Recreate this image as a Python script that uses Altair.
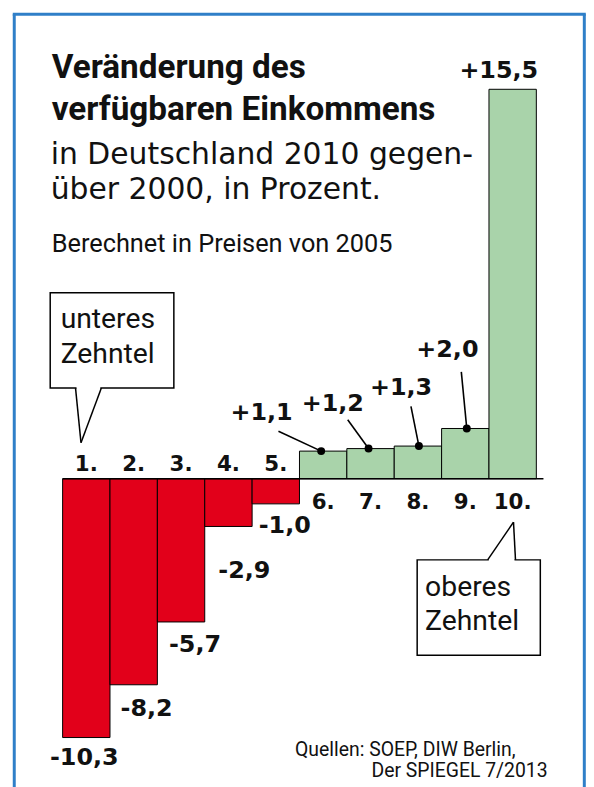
import altair as alt
import pandas as pd

# ---------------- data ----------------
DECILES = [1, 2, 3, 4, 5, 6, 7, 8, 9, 10]
DECILE_LABELS = ["1.", "2.", "3.", "4.", "5.", "6.", "7.", "8.", "9.", "10."]
# values as printed on the chart
CHANGE = [-10.3, -8.2, -5.7, -2.9, -1.0, 1.1, 1.2, 1.3, 2.0, 15.5]
# bar lengths as drawn in the picture (4th bar is drawn shorter than its label)
BAR_DRAWN = [-10.3, -8.2, -5.7, -1.9, -1.0, 1.1, 1.2, 1.3, 2.0, 15.5]

TITLE_BOLD = ["Veränderung des", "verfügbaren Einkommens"]
TITLE_REGULAR = ["in Deutschland 2010 gegen-", "über 2000, in Prozent."]
SUBTITLE = "Berechnet in Preisen von 2005"
CALLOUT_LOW = ["unteres", "Zehntel"]
CALLOUT_HIGH = ["oberes", "Zehntel"]
SOURCE = ["Quellen: SOEP, DIW Berlin,", "Der SPIEGEL 7/2013"]

# ---------------- layout ----------------
W, H = 582, 779
PX_X = 47.7            # pixels per decile
PX_Y = 25.3            # pixels per percent
XMIN = 0.5 - (63 - 8) / PX_X
XMAX = XMIN + W / PX_X
YMAX = (479.3 - 8) / PX_Y
YMIN = YMAX - H / PX_Y

RED = "#e2001a"
GREEN = "#a9d3aa"
BLUE = "#2f7fc8"
TXT = "#111111"
SANS = "Roboto"
BOLD = "DejaVu Sans"

# label offsets (pixels) for negative values: (dx, dy) from value position
NEG_OFF = [(-2, 21), (13, 24), (14, 23), (16, 20), (9, 22)]
# label offsets for positive values from bar top
POS_OFF = [(-62, -38), (-38, -45), (-17, -58), (-18, -79), (-14, -18)]
# leader line start offsets from dot
LEAD_OFF = [(-43, -20), (-21, -29), (-8, -40), (-5.5, -57)]
DOT_DX = [-2, -2, 1, 1.5]

xs = alt.Scale(domain=[XMIN, XMAX], nice=False, zero=False)
ys = alt.Scale(domain=[YMIN, YMAX], nice=False, zero=False)


def fmt(v):
    return ("+" if v > 0 else "-") + f"{abs(v):.1f}".replace(".", ",")


bars = pd.DataFrame({
    "d": DECILES,
    "lab": DECILE_LABELS,
    "v": CHANGE,
    "drawn": BAR_DRAWN,
})
bars["x1"] = bars["d"] - 0.5
bars["x2"] = bars["d"] + 0.5
bars["zero"] = 0.0
bars["sign"] = ["neg" if v < 0 else "pos" for v in CHANGE]
bars["txt"] = [fmt(v) for v in CHANGE]

neg = bars[bars["v"] < 0].copy()
pos = bars[bars["v"] > 0].copy()

neg["lx"] = neg["d"] + [o[0] / PX_X for o in NEG_OFF]
neg["ly"] = neg["v"] - pd.Series([o[1] / PX_Y for o in NEG_OFF], index=neg.index)
pos["lx"] = pos["d"] + [o[0] / PX_X for o in POS_OFF]
pos["ly"] = pos["v"] - pd.Series([o[1] / PX_Y for o in POS_OFF], index=pos.index)

lead = pos[pos["d"] < 10].copy()
lead["dx"] = lead["d"] + [v / PX_X for v in DOT_DX]
lead["dy"] = lead["drawn"]
lead["sx"] = lead["dx"] + [o[0] / PX_X for o in LEAD_OFF]
lead["sy"] = lead["dy"] - pd.Series([o[1] / PX_Y for o in LEAD_OFF], index=lead.index)

bar_layer = alt.Chart(bars).mark_rect(stroke="black", strokeWidth=1).encode(
    x=alt.X("x1:Q", scale=xs, axis=None),
    x2="x2:Q",
    y=alt.Y("zero:Q", scale=ys, axis=None),
    y2="drawn:Q",
    color=alt.Color("sign:N", scale=alt.Scale(domain=["neg", "pos"], range=[RED, GREEN]), legend=None),
)

base_df = pd.DataFrame({"a": [0.5], "b": [10.65], "z": [0.0]})
baseline = alt.Chart(base_df).mark_rule(color="black", strokeWidth=1.5).encode(
    x=alt.X("a:Q", scale=xs, axis=None), x2="b:Q", y=alt.Y("z:Q", scale=ys, axis=None)
)

cat_neg = alt.Chart(neg).mark_text(font=BOLD, fontWeight="bold", fontSize=21.5, dy=-14,
                                   baseline="middle", color=TXT).encode(
    x=alt.X("d:Q", scale=xs, axis=None), y=alt.Y("zero:Q", scale=ys, axis=None), text="lab:N")
cat_pos = alt.Chart(pos).mark_text(font=BOLD, fontWeight="bold", fontSize=21.5, dy=24,
                                   baseline="middle", color=TXT).encode(
    x=alt.X("d:Q", scale=xs, axis=None), y=alt.Y("zero:Q", scale=ys, axis=None), text="lab:N")

val_neg = alt.Chart(neg).mark_text(font=BOLD, fontWeight="bold", fontSize=24,
                                   baseline="middle", color=TXT).encode(
    x=alt.X("lx:Q", scale=xs, axis=None), y=alt.Y("ly:Q", scale=ys, axis=None), text="txt:N")
val_pos = alt.Chart(pos).mark_text(font=BOLD, fontWeight="bold", fontSize=24,
                                   baseline="middle", color=TXT).encode(
    x=alt.X("lx:Q", scale=xs, axis=None), y=alt.Y("ly:Q", scale=ys, axis=None), text="txt:N")

leaders = alt.Chart(lead).mark_rule(color="black", strokeWidth=1.6).encode(
    x=alt.X("sx:Q", scale=xs, axis=None), y=alt.Y("sy:Q", scale=ys, axis=None),
    x2="dx:Q", y2="dy:Q")
dots = alt.Chart(lead).mark_circle(color="black", opacity=1, size=64).encode(
    x=alt.X("dx:Q", scale=xs, axis=None), y=alt.Y("dy:Q", scale=ys, axis=None))

one = pd.DataFrame({"a": [0]})


def text_at(txt, x, y, size, weight="normal", font=SANS, align="left"):
    return alt.Chart(one).mark_text(text=txt, font=font, fontSize=size, fontWeight=weight,
                                    align=align, baseline="alphabetic", color=TXT).encode(
        x=alt.value(x - 8), y=alt.value(y - 8))


def rule_px(x1, y1, x2, y2, color="black", width=1.5):
    return alt.Chart(one).mark_rule(color=color, strokeWidth=width).encode(
        x=alt.value(x1 - 8), y=alt.value(y1 - 8), x2=alt.value(x2 - 8), y2=alt.value(y2 - 8))


def rect_px(x1, y1, x2, y2):
    return alt.Chart(one).mark_rect(fill="white", stroke="black", strokeWidth=1.5).encode(
        x=alt.value(x1 - 8), y=alt.value(y1 - 8), x2=alt.value(x2 - 8), y2=alt.value(y2 - 8))


callouts = [
    rect_px(50.5, 292, 175, 388),
    rule_px(77, 388, 101, 388, color="white", width=3),
    rule_px(76, 388, 81.5, 443),
    rule_px(102, 388, 81.5, 443),
    rect_px(420, 561, 544, 657),
    rule_px(492, 561, 518, 561, color="white", width=3),
    rule_px(491, 561, 517, 523),
    rule_px(519, 561, 517, 523),
]

texts = [
    text_at(TITLE_BOLD[0], 52, 76, 33.5, "bold"),
    text_at(TITLE_BOLD[1], 52, 118, 33.5, "bold"),
    text_at(TITLE_REGULAR[0], 51, 162, 30, font="DejaVu Sans"),
    text_at(TITLE_REGULAR[1], 51, 198, 30, font="DejaVu Sans"),
    text_at(SUBTITLE, 52, 251, 25.5),
    text_at(CALLOUT_LOW[0], 61, 328, 28.5),
    text_at(CALLOUT_LOW[1], 61, 363, 28.5),
    text_at(CALLOUT_HIGH[0], 428, 597, 28.5),
    text_at(CALLOUT_HIGH[1], 428, 632, 28.5),
    text_at(SOURCE[0], 297, 758, 19.5),
    text_at(SOURCE[1], 374, 780, 19.5),
]

border = [
    rule_px(14.3, 11.7, 14.3, 800, color=BLUE, width=3),
    rule_px(12.8, 11.7, 589.8, 11.7, color=BLUE, width=3),
    rule_px(588.3, 11.7, 588.3, 800, color=BLUE, width=3),
]

chart = alt.layer(
    bar_layer, baseline, cat_neg, cat_pos, val_neg, val_pos, leaders, dots,
    *callouts, *texts, *border
).properties(
    width=W, height=H, autosize="none", padding=0, background="white"
).configure_view(stroke=None)

chart.save("out.html", embed_options={"renderer": "svg", "actions": False})
